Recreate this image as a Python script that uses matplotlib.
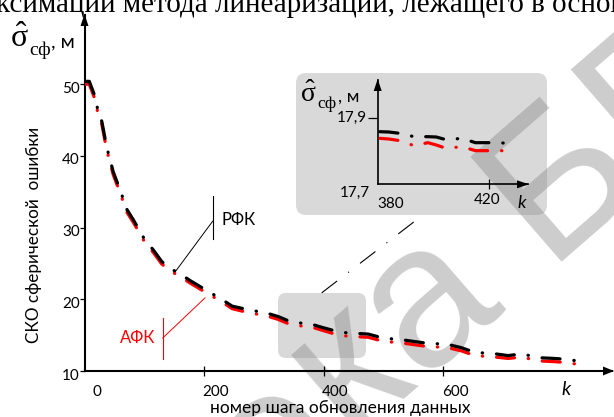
import matplotlib
matplotlib.use("Agg")
import matplotlib.pyplot as plt
from matplotlib.patches import FancyBboxPatch, Polygon
import matplotlib.transforms as mtransforms

plt.rcParams["lines.scale_dashes"] = False
SANS = ["Lato", "Noto Sans", "DejaVu Sans"]
SERIF = ["Liberation Serif", "DejaVu Serif"]
plt.rcParams["font.family"] = SANS
plt.rcParams["mathtext.fontset"] = "custom"
plt.rcParams["mathtext.rm"] = "Liberation Serif"
plt.rcParams["mathtext.it"] = "Liberation Serif:italic"
plt.rcParams["mathtext.bf"] = "Liberation Serif:bold"

# ---------------- data ----------------
k_main = [0, 8, 18, 22, 29, 37, 43, 48, 62, 69, 82, 101, 115, 129, 143, 157, 177,
          199, 213, 227, 247, 271, 287, 302, 324, 344, 360, 377, 397, 419, 436,
          453, 475, 497, 512, 528, 553, 575, 590, 606, 631, 653, 670, 687, 709,
          732, 747, 762, 787, 812, 826, 840]
rfk_main = [50.4, 50.4, 48.2, 46.5, 44.8, 41.3, 39.4, 37.8, 34.7, 32.8, 31.05,
            28.3, 26.9, 25.3, 24.3, 23.7, 22.6, 21.5, 20.8, 20.15, 19.05, 18.6,
            18.35, 18.15, 17.6, 16.9, 16.7, 16.6, 16.1, 15.6, 15.35, 15.25, 15.15,
            14.65, 14.5, 14.4, 14.1, 13.85, 13.8, 13.75, 13.25, 12.6, 12.5, 12.4,
            12.15, 12.4, 12.1, 11.85, 11.75, 11.6, 11.35, 11.15]
afk_main = [50.0, 50.0, 47.8, 46.1, 44.4, 40.9, 39.0, 37.4, 34.3, 32.4, 30.7,
            27.95, 26.55, 24.95, 23.95, 23.35, 22.25, 21.15, 20.45, 19.8, 18.7,
            18.2, 17.95, 17.75, 17.2, 16.5, 16.3, 16.2, 15.7, 15.15, 14.9, 14.8,
            14.7, 14.2, 14.05, 13.95, 13.65, 13.4, 13.35, 13.3, 12.8, 12.15, 12.05,
            11.95, 11.75, 11.95, 11.65, 11.4, 11.3, 11.15, 10.9, 10.7]
x_ticks = [0, 200, 400, 600]
y_ticks = [10, 20, 30, 40, 50]

k_inset = [380.8, 384, 388, 393, 398, 401, 404.5, 410.3, 415, 419, 422.6, 427.4]
rfk_inset = [17.858, 17.857, 17.853, 17.843, 17.843, 17.842, 17.834, 17.838,
             17.825, 17.825, 17.825, 17.823]
afk_inset = [17.838, 17.836, 17.831, 17.816, 17.825, 17.818, 17.808, 17.813,
             17.801, 17.801, 17.801, 17.801]
inset_xticks = [380, 420]
inset_xlabels = ["380", "420"]
inset_yticks = [17.7, 17.9]
inset_ylabels = ["17,7", "17,9"]

# ---------------- layout helpers ----------------
W, H = 614, 417
fig = plt.figure(figsize=(W / 100, H / 100), dpi=100)
IN = fig.dpi_scale_trans


def P(x, y):
    """pixel position (from top-left) -> inches (from bottom-left)"""
    return (x / 100.0, (H - y) / 100.0)


def off(dx, dy):
    return mtransforms.ScaledTranslation(dx / 100.0, -dy / 100.0, IN)


DASH = (0, (13, 10, 0.3, 10))
THIN_DASH = (0, (14, 10, 0.8, 10))

# background grey boxes
big_box = FancyBboxPatch(P(296, 215), 251 / 100, 142 / 100,
                         boxstyle="round,pad=0,rounding_size=0.1",
                         fc="#d9d9d9", ec="none", transform=IN, zorder=-3)
small_box = FancyBboxPatch(P(278, 358), 88 / 100, 65 / 100,
                           boxstyle="round,pad=0,rounding_size=0.08",
                           fc="#d9d9d9", ec="none", transform=IN, zorder=-3)
fig.add_artist(big_box)
fig.add_artist(small_box)

# watermark
wm_anchor = P(352, 444)
wm_kw = dict(transform=IN, fontsize=146, family=["Liberation Sans", "DejaVu Sans"],
             color="#888888", alpha=0.42, rotation=41, rotation_mode="anchor",
             va="baseline", zorder=-2)
fig.text(*wm_anchor, "Библиоте", ha="right", **wm_kw)
fig.text(*wm_anchor, "ка БГУИР", ha="left", **wm_kw)

# cropped document text at top
fig.text(*P(-4, 12.5), "ксимации метода линеаризации, лежащего в основе",
         transform=IN, family=SERIF, fontsize=21, ha="left", va="baseline")

# ---------------- main axes ----------------
X0, XR, Y0, YT = 84.5, 612, 371, 15
ax = fig.add_axes([X0 / W, 1 - Y0 / H, (XR - X0) / W, (Y0 - YT) / H])
ax.set_facecolor("none")
ax.set_xlim(0, (XR - X0) / 0.5975)
ax.set_ylim(10, 10 + (Y0 - YT) / 7.17)
for s in ("top", "right"):
    ax.spines[s].set_visible(False)
for s in ("left", "bottom"):
    ax.spines[s].set_linewidth(1.5)
ax.set_xticks([t for t in x_ticks if t > 0])
ax.set_yticks(y_ticks)
ax.tick_params(axis="x", direction="inout", length=7.5, width=0.9, labelbottom=False)
ax.tick_params(axis="y", direction="out", length=3.5, width=0.9, labelleft=False)

for t in x_ticks:
    ax.text(t, 0, str(t), transform=ax.get_xaxis_transform() + off(12, 14),
            ha="center", va="top", fontsize=11)
for t in y_ticks:
    ax.text(0, t, str(t), transform=ax.get_yaxis_transform() + off(-4.5, 4.5),
            ha="right", va="center", fontsize=11)

ax.plot(k_main, afk_main, color="#ff0000", lw=2.3, linestyle=DASH,
        dash_capstyle="round", zorder=3)
ax.plot(k_main, rfk_main, color="black", lw=2.3, linestyle=DASH,
        dash_capstyle="round", zorder=4)

# annotations
ax.plot([214.6, 214.6], [28.4, 34.4], color="black", lw=0.8)
ax.plot([214.6, 151.5], [30.9, 23.8], color="black", lw=0.7)
ax.text(230, 31.1, "РФК", ha="left", va="center", fontsize=12)
ax.plot([130.9, 130.9], [11.7, 17.4], color="#ff0000", lw=0.8)
ax.plot([130.9, 201.7], [14.6, 20.2], color="#ff0000", lw=0.7)
ax.text(118, 14.6, "АФК", ha="right", va="center", fontsize=12, color="#ff0000")
ax.plot([397, 556], [20.9, 31.1], color="black", lw=0.8, linestyle=THIN_DASH,
        clip_on=False)

# axis titles
fig.text(*P(10, 47), r"$\hat{\mathrm{\sigma}}$", transform=IN, fontsize=23,
         ha="left", va="baseline")
fig.text(*P(29, 55), "сф", transform=IN, family=SERIF, fontsize=14,
         ha="left", va="baseline")
fig.text(*P(51, 47), ", м", transform=IN, fontsize=14.5, ha="left", va="baseline")
fig.text(*P(561, 395), "k", transform=IN, fontsize=14, style="italic",
         ha="left", va="baseline")
fig.text(*P(340, 413), "номер шага обновления данных", transform=IN,
         fontsize=12.5, ha="center", va="baseline")
fig.text(*P(34, 235), "СКО сферической  ошибки", transform=IN, fontsize=12.3,
         rotation=90, ha="center", va="center")

# arrows for main axes
fig.add_artist(Polygon([P(614, 371), P(603, 366.5), P(603, 375.5)], closed=True,
                       fc="black", ec="none", transform=IN, zorder=5))
fig.add_artist(Polygon([P(84.5, 14), P(80.5, 26), P(88.5, 26)], closed=True,
                       fc="black", ec="none", transform=IN, zorder=5))

# ---------------- inset axes ----------------
IX0, IXR, IY0, IYT = 377.7, 528, 184.3, 80
axi = fig.add_axes([IX0 / W, 1 - IY0 / H, (IXR - IX0) / W, (IY0 - IYT) / H])
axi.set_facecolor("none")
axi.set_xlim(380, 380 + (IXR - IX0) / 2.79)
axi.set_ylim(17.7, 17.7 + (IY0 - IYT) / 333.0)
for s in ("top", "right"):
    axi.spines[s].set_visible(False)
for s in ("left", "bottom"):
    axi.spines[s].set_linewidth(1.2)
axi.set_xticks(inset_xticks[1:])
axi.set_yticks(inset_yticks[1:])
axi.tick_params(axis="x", direction="inout", length=6.5, width=0.9, labelbottom=False)
axi.tick_params(axis="y", direction="out", length=7, width=0.9, labelleft=False)

inset_xlab_off = [(12.6, 12.7), (-1.8, 8.7)]
inset_ylab_off = [(-7.7, 8.7), (-11, 0)]
for t, lab, (dx, dy) in zip(inset_xticks, inset_xlabels, inset_xlab_off):
    axi.text(t, 0, lab, transform=axi.get_xaxis_transform() + off(dx, dy),
             ha="center", va="top", fontsize=11)
for t, lab, (dx, dy) in zip(inset_yticks, inset_ylabels, inset_ylab_off):
    axi.text(0, t, lab, transform=axi.get_yaxis_transform() + off(dx, dy),
             ha="right", va="center", fontsize=11)

axi.plot(k_inset, afk_inset, color="#ff0000", lw=2.3, linestyle=DASH,
         dash_capstyle="round", zorder=3, clip_on=False)
axi.plot(k_inset, rfk_inset, color="black", lw=2.3, linestyle=DASH,
         dash_capstyle="round", zorder=4, clip_on=False)

fig.text(*P(300, 101.7), r"$\hat{\mathrm{\sigma}}$", transform=IN, fontsize=20,
         ha="left", va="baseline")
fig.text(*P(317, 108), "сф", transform=IN, family=SERIF, fontsize=12.5,
         ha="left", va="baseline")
fig.text(*P(338, 101.7), ", м", transform=IN, fontsize=13, ha="left", va="baseline")
fig.text(*P(517, 208), "k", transform=IN, fontsize=13, style="italic",
         ha="left", va="baseline")

fig.add_artist(Polygon([P(529, 184.3), P(517, 180.3), P(517, 188.3)], closed=True,
                       fc="black", ec="none", transform=IN, zorder=5))
fig.add_artist(Polygon([P(377.7, 79), P(373.7, 91), P(381.7, 91)], closed=True,
                       fc="black", ec="none", transform=IN, zorder=5))

fig.savefig("out.png", dpi=100)
